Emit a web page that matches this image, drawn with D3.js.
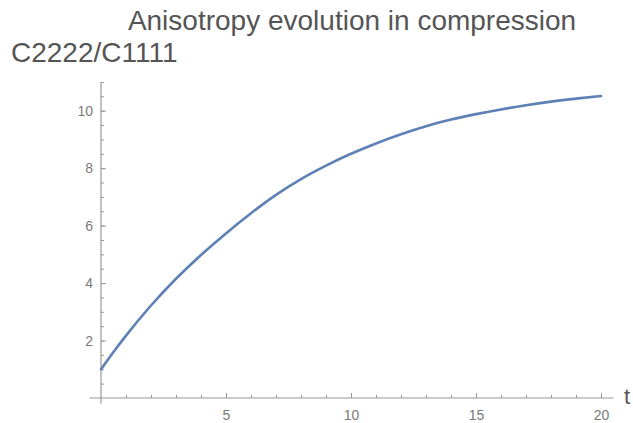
<!DOCTYPE html>
<html>
<head>
<meta charset="utf-8">
<script src="https://cdn.jsdelivr.net/npm/d3@7"></script>
<style>
  body { margin: 0; background: #fff; }
  svg text { font-family: "Liberation Sans", Arial, sans-serif; }
</style>
</head>
<body>
<div id="chart"></div>
<script>
var w = 633,
    h = 423;

// values
var tValues = [0, 0.5, 1, 2, 3, 4, 5, 6, 7, 8, 9, 10, 11, 12, 13, 14, 15, 16, 17, 18, 19, 20];
var ratioValues = [1.0, 1.6, 2.17, 3.22, 4.15, 4.98, 5.73, 6.43, 7.07, 7.62, 8.09, 8.5, 8.86, 9.18, 9.46, 9.69, 9.88, 10.045, 10.19, 10.315, 10.42, 10.51];

var xMajor = [5, 10, 15, 20],
    xMinor = d3.range(1, 21),
    yMajor = [2, 4, 6, 8, 10],
    yMinor = d3.range(0.5, 11.01, 0.5);

var x = d3.scaleLinear().domain([0, 20]).range([101, 601]);
var y = d3.scaleLinear().domain([0, 10]).range([398, 110.7]);

var svg = d3.select("#chart")
    .append("svg")
    .attr("width", w)
    .attr("height", h);

var axisColor = "#999",
    labelColor = "#7a7a7a";

// x axis
var xg = svg.append("g").attr("transform", "translate(0," + y(0) + ")");
xg.append("line")
  .attr("x1", x(-0.45)).attr("x2", x(20.5))
  .attr("stroke", axisColor).attr("stroke-width", 1.2);
xg.call(d3.axisBottom(x).tickValues(xMinor).tickSize(-3).tickFormat(""))
  .call(function(g) { g.select(".domain").remove(); });
var xg2 = svg.append("g").attr("transform", "translate(0," + y(0) + ")");
xg2.call(d3.axisBottom(x).tickValues(xMajor).tickSize(-5).tickPadding(12).tickFormat(d3.format("d")))
   .call(function(g) { g.select(".domain").remove(); });

// y axis
var yg = svg.append("g").attr("transform", "translate(" + x(0) + ",0)");
yg.append("line")
  .attr("y1", y(11)).attr("y2", y(-0.2))
  .attr("stroke", axisColor).attr("stroke-width", 1.2);
yg.call(d3.axisLeft(y).tickValues(yMinor).tickSize(-3).tickFormat(""))
  .call(function(g) { g.select(".domain").remove(); });
var yg2 = svg.append("g").attr("transform", "translate(" + x(0) + ",0)");
yg2.call(d3.axisLeft(y).tickValues(yMajor).tickSize(-5).tickPadding(8).tickFormat(d3.format("d")))
   .call(function(g) { g.select(".domain").remove(); });

svg.selectAll(".tick line").attr("stroke", axisColor).attr("stroke-width", 1);
svg.selectAll(".tick text")
   .attr("fill", labelColor)
   .style("font-size", "14px")
   .style("font-family", "'Liberation Sans', Arial, sans-serif");

// curve
var line = d3.line()
    .x(function(d, i) { return x(tValues[i]); })
    .y(function(d) { return y(d); })
    .curve(d3.curveMonotoneX);

svg.append("path")
   .datum(ratioValues)
   .attr("d", line)
   .attr("fill", "none")
   .attr("stroke", "#5e81b5")
   .attr("stroke-width", 2.6)
   .attr("stroke-linecap", "round");

// titles
svg.append("text")
   .attr("x", 352).attr("y", 29.5)
   .attr("text-anchor", "middle")
   .attr("fill", "#555")
   .style("font-size", "28px")
   .text("Anisotropy evolution in compression");

svg.append("text")
   .attr("x", 11).attr("y", 62)
   .attr("fill", "#555")
   .style("font-size", "28px")
   .text("C2222/C1111");

svg.append("text")
   .attr("x", 624).attr("y", 404)
   .attr("fill", "#555")
   .style("font-size", "22px")
   .text("t");
</script>
</body>
</html>
